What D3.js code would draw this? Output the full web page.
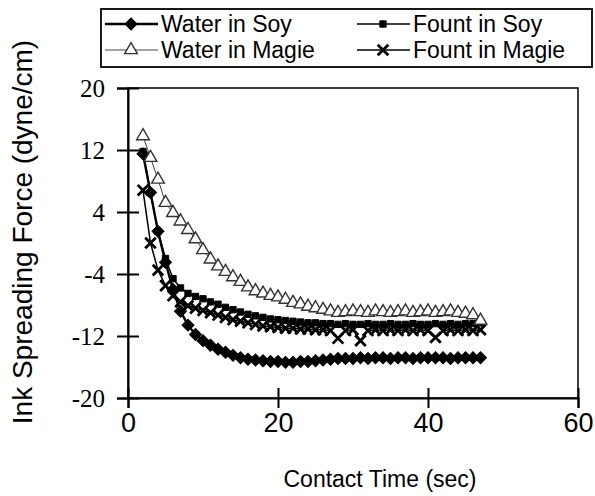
<!DOCTYPE html>
<html>
<head>
<meta charset="utf-8">
<script src="https://cdn.jsdelivr.net/npm/d3@7"></script>
<style>
  body { margin: 0; background: #fff; }
  svg { display: block; }
</style>
</head>
<body>
<div id="root"></div>
<script>
// Chart size and plot box
const width = 595
const height = 496
const plot = { left: 128, right: 578, top: 88, bottom: 398 }

// Contact time (sec), shared by all series
const time = [2, 3, 4, 5, 6, 7, 8, 9, 10, 11, 12, 13, 14, 15, 16, 17, 18, 19, 20, 21, 22, 23, 24,
  25, 26, 27, 28, 29, 30, 31, 32, 33, 34, 35, 36, 37, 38, 39, 40, 41, 42, 43, 44, 45, 46, 47]

// Ink spreading force (dyne/cm)
const waterSoy = [11.5, 6.5, 1.5, -2.5, -6.0, -8.8, -10.6, -11.8, -12.6, -13.2, -13.7, -14.1, -14.5, -14.8,
  -15.0, -15.1, -15.2, -15.3, -15.3, -15.4, -15.4, -15.3, -15.3, -15.2, -15.1, -15.0, -14.9, -14.9, -14.9,
  -14.8, -14.9, -14.8, -14.8, -14.9, -14.8, -14.8, -14.9, -14.8, -14.8, -14.8, -14.8, -14.9, -14.8, -14.8,
  -14.8, -14.8]
const fountSoy = [11.8, 6.5, 1.5, -2.0, -4.6, -5.8, -6.5, -6.9, -7.2, -7.6, -7.9, -8.3, -8.6, -8.9, -9.2,
  -9.4, -9.6, -9.8, -9.9, -10.0, -10.1, -10.2, -10.3, -10.3, -10.4, -10.4, -10.5, -10.4, -10.5, -10.5,
  -10.4, -10.5, -10.5, -10.4, -10.5, -10.5, -10.4, -10.5, -10.5, -10.4, -10.5, -10.4, -10.5, -10.4, -10.4,
  -10.3]
const waterMagie = [13.8, 11.0, 8.2, 5.2, 3.9, 2.8, 1.7, 0.5, -0.9, -2.1, -3.0, -3.7, -4.4, -5.0, -5.7,
  -6.2, -6.5, -6.8, -7.0, -7.3, -7.7, -7.9, -8.2, -8.4, -8.6, -8.8, -9.0, -8.9, -8.8, -8.9, -9.0, -8.8,
  -8.9, -9.0, -8.9, -8.8, -9.0, -8.9, -8.8, -9.0, -8.9, -8.8, -9.0, -9.1, -9.3, -10.0]
const fountMagie = [6.8, 0.0, -3.5, -5.5, -6.8, -7.6, -8.1, -8.4, -8.7, -9.0, -9.3, -9.6, -9.9, -10.1,
  -10.3, -10.5, -10.7, -10.8, -10.9, -11.0, -11.0, -11.1, -11.1, -11.2, -11.2, -11.3, -12.3, -11.3, -11.2,
  -12.6, -11.3, -11.2, -11.3, -11.2, -11.3, -11.2, -11.3, -11.2, -11.3, -12.2, -11.3, -11.2, -11.3, -11.2,
  -11.3, -11.2]

// Axis ticks
const xTicks = [0, 20, 40, 60]
const yTicks = [20, 12, 4, -4, -12, -20]

const timesSymbol = d3.symbolTimes || d3.symbolX || d3.symbolCross

// Series styles, drawn in this order (rot = marker rotation)
const series = [
  { name: 'Water in Soy', values: waterSoy, symbol: d3.symbolSquare, rot: 45, size: 72, fill: '#000', stroke: '#000', sw: 1, line: '#000', lw: 2.4 },
  { name: 'Fount in Soy', values: fountSoy, symbol: d3.symbolSquare, rot: 0, size: 40, fill: '#000', stroke: '#000', sw: 1, line: '#000', lw: 1.5 },
  { name: 'Fount in Magie', values: fountMagie, symbol: timesSymbol, rot: 0, size: 75, fill: 'none', stroke: '#000', sw: 2.8, line: '#000', lw: 1.5 },
  { name: 'Water in Magie', values: waterMagie, symbol: d3.symbolTriangle, rot: 0, size: 70, fill: '#fff', stroke: '#333', sw: 1.4, line: '#444', lw: 1 }
]

const x = d3.scaleLinear().domain([0, 60]).range([plot.left, plot.right])
const y = d3.scaleLinear().domain([-20, 20]).range([plot.bottom, plot.top])

const svg = d3.select('#root').append('svg')
  .attr('width', width)
  .attr('height', height)

// Frame
svg.append('rect')
  .attr('x', plot.left).attr('y', plot.top)
  .attr('width', plot.right - plot.left).attr('height', plot.bottom - plot.top)
  .attr('fill', 'none').attr('stroke', '#000').attr('stroke-width', 1.5)

// Y axis, ticks cross the line
const yAxis = svg.append('g')
  .attr('transform', `translate(${plot.left},0)`)
  .call(d3.axisLeft(y).tickValues(yTicks).tickSize(11).tickFormat(d => String(d)))
yAxis.select('.domain').attr('stroke-width', 2)
yAxis.selectAll('.tick line').attr('x2', 11).attr('x1', -11).attr('stroke-width', 2)
yAxis.selectAll('.tick text')
  .attr('x', -23)
  .attr('font-family', '"Liberation Serif", "Times New Roman", serif')
  .attr('font-size', 25)
  .attr('fill', '#000')

// X axis
const xAxis = svg.append('g')
  .attr('transform', `translate(0,${plot.bottom})`)
  .call(d3.axisBottom(x).tickValues(xTicks).tickSize(10))
xAxis.select('.domain').attr('stroke-width', 2)
xAxis.selectAll('.tick line').attr('y1', -10).attr('y2', 10).attr('stroke-width', 2)
xAxis.selectAll('.tick text')
  .attr('y', 25)
  .attr('dy', '0')
  .attr('dominant-baseline', 'central')
  .attr('font-family', '"Liberation Sans", Arial, sans-serif')
  .attr('font-size', 27)
  .attr('fill', '#000')

// Axis titles
svg.append('text')
  .attr('x', 380)
  .attr('y', 487)
  .attr('text-anchor', 'middle')
  .attr('font-family', '"Liberation Sans", Arial, sans-serif')
  .attr('font-size', 23)
  .text('Contact Time (sec)')

svg.append('text')
  .attr('transform', 'translate(32,232) rotate(-90)')
  .attr('text-anchor', 'middle')
  .attr('font-family', '"Liberation Sans", Arial, sans-serif')
  .attr('font-size', 28)
  .text('Ink Spreading Force (dyne/cm)')

// Lines and markers
const line = d3.line()
  .x((d, i) => x(time[i]))
  .y(d => y(d))

series.forEach(s => {
  const g = svg.append('g')
  g.append('path')
    .datum(s.values)
    .attr('fill', 'none')
    .attr('stroke', s.line)
    .attr('stroke-width', s.lw)
    .attr('d', line)
  g.selectAll('path.pt')
    .data(s.values)
    .enter().append('path')
    .attr('class', 'pt')
    .attr('transform', (d, i) => `translate(${x(time[i])},${y(d)}) rotate(${s.rot})`)
    .attr('d', d3.symbol().type(s.symbol).size(s.size))
    .attr('fill', s.fill)
    .attr('stroke', s.stroke)
    .attr('stroke-width', s.sw)
})

// Legend box
const legend = svg.append('g')
legend.append('rect')
  .attr('x', 101).attr('y', 9)
  .attr('width', 491).attr('height', 58)
  .attr('fill', '#fff').attr('stroke', '#000').attr('stroke-width', 1.8)

const legendItems = [
  { s: series[0], col: 0, row: 0 },
  { s: series[3], col: 0, row: 1 },
  { s: series[1], col: 1, row: 0 },
  { s: series[2], col: 1, row: 1 }
]
const colX = [105, 357]
const rowY = [24, 50]

legendItems.forEach(it => {
  const lx = colX[it.col]
  const ly = rowY[it.row]
  legend.append('line')
    .attr('x1', lx).attr('x2', lx + 53)
    .attr('y1', ly).attr('y2', ly)
    .attr('stroke', it.s.line)
    .attr('stroke-width', it.s.lw)
  legend.append('path')
    .attr('transform', `translate(${lx + 26},${ly}) rotate(${it.s.rot})`)
    .attr('d', d3.symbol().type(it.s.symbol).size(it.s.size))
    .attr('fill', it.s.fill)
    .attr('stroke', it.s.stroke)
    .attr('stroke-width', it.s.sw)
  legend.append('text')
    .attr('x', lx + 56)
    .attr('y', ly)
    .attr('dominant-baseline', 'central')
    .attr('font-family', '"Liberation Sans", Arial, sans-serif')
    .attr('font-size', 23)
    .text(it.s.name)
})
</script>
</body>
</html>
